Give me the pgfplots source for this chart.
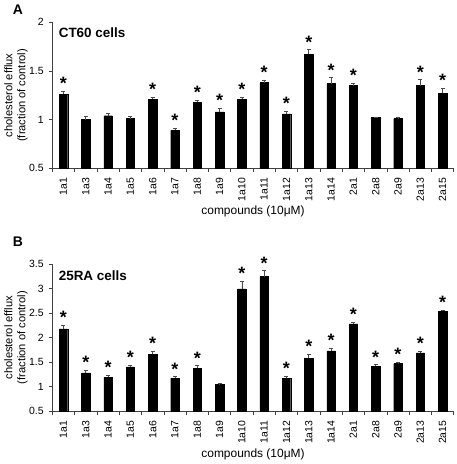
\documentclass[border=0pt]{standalone}
\usepackage{fontspec}
\setmainfont{Liberation Sans}
\usepackage{pgfplots}
\usepackage{pgfplotstable}
\pgfplotsset{compat=1.18}

\pgfplotstableread{
x val err ast
0  1.26 0.03  1.29
1  1.00 0.03  nan
2  1.04 0.02  nan
3  1.01 0.02  nan
4  1.21 0.02  1.23
5  0.89 0.02  0.91
6  1.18 0.02  1.20
7  1.08 0.04  1.12
8  1.21 0.02  1.23
9  1.38 0.025 1.405
10 1.06 0.03  1.09
11 1.67 0.05  1.72
12 1.37 0.06  1.43
13 1.35 0.025 1.375
14 1.02 0.005 nan
15 1.01 0.015 nan
16 1.35 0.06  1.41
17 1.27 0.05  1.32
}\dataA

\pgfplotstableread{
x val err ast
0  2.18 0.08  2.26
1  1.28 0.06  1.34
2  1.19 0.04  1.23
3  1.40 0.04  1.44
4  1.66 0.07  1.73
5  1.17 0.03  1.20
6  1.37 0.055 1.425
7  1.04 0.03  nan
8  3.00 0.16  3.16
9  3.25 0.12  3.37
10 1.17 0.04  1.21
11 1.58 0.08  1.66
12 1.73 0.06  1.79
13 2.28 0.04  2.32
14 1.42 0.03  1.45
15 1.47 0.03  1.50
16 1.69 0.03  1.72
17 2.54 0.02  2.56
}\dataB

\pgfplotsset{
  cstyle/.style={
    scale only axis, width=401.4bp,
    axis x line*=bottom, axis y line*=left,
    axis line style={black!75, line width=0.6bp},
    xmin=-0.5, xmax=17.5,
    xtick={0,...,17},
    xticklabels={1a1,1a3,1a4,1a5,1a6,1a7,1a8,1a9,1a10,1a11,1a12,1a13,1a14,2a1,2a8,2a9,2a13,2a15},
    minor xtick={-0.5,0.5,...,17.5},
    major x tick style={draw=none},
    tick align=outside,
    major tick length=3.5bp, minor tick length=4bp,
    tick style={black!75, line width=0.6bp},
    xticklabel style={rotate=90, anchor=east, font=\fontsize{10.5}{12}\selectfont, inner sep=0pt},
    yticklabel style={font=\fontsize{10.5}{12}\selectfont, anchor=east, inner sep=0pt},
    xticklabel shift=6bp, yticklabel shift=5bp,
    /pgf/number format/assume math mode=true,
    clip mode=individual,
    xlabel={compounds (10μM)},
    xlabel style={at={(rel axis cs:0.5,0)}, anchor=center, yshift=-43.4bp, font=\fontsize{12}{14}\selectfont},
    ylabel={cholesterol efflux\\(fraction of control)},
    ylabel style={at={([xshift=-36.3bp]rel axis cs:0,0.5)}, anchor=center, align=center, font=\fontsize{11.2}{13}\selectfont},
  },
  barstyle/.style={ybar, bar width=8.5bp, fill=black, draw=black,
    error bars/.cd, y dir=plus, y explicit,
    error bar style={black!70, line width=0.6bp},
    error mark options={rotate=90, mark size=2bp, black!70, line width=0.6bp}},
  starstyle/.style={draw=none, mark=none, nodes near coords={*},
    every node near coord/.style={anchor=base, yshift=1.5bp, font=\bfseries\fontsize{18}{20}\selectfont, inner sep=0pt}},
}

\begin{document}
\begin{tikzpicture}
\useasboundingbox (0,0) rectangle (457bp,-464bp);
\node[font=\bfseries\fontsize{14}{16}\selectfont] at (18bp,-9.5bp) {A};
\node[font=\bfseries\fontsize{14}{16}\selectfont] at (18bp,-242bp) {B};
\begin{axis}[cstyle, at={(52.3bp,-22.3bp)}, anchor=north west, height=146bp,
  ymin=0.5, ymax=2, ytick={0.5,1,1.5,2}]
\addplot[barstyle] table[x=x, y=val, y error=err]{\dataA};
\addplot[starstyle] table[x=x, y=ast]{\dataA};
\node[anchor=west, font=\bfseries\fontsize{13.5}{15}\selectfont] at ([xshift=3bp,yshift=-10.7bp]rel axis cs:0,1) {CT60 cells};
\end{axis}
\begin{axis}[cstyle, at={(52.3bp,-264.3bp)}, anchor=north west, height=146.7bp,
  ymin=0.5, ymax=3.5, ytick={0.5,1,...,3.5}]
\addplot[barstyle] table[x=x, y=val, y error=err]{\dataB};
\addplot[starstyle] table[x=x, y=ast]{\dataB};
\node[anchor=west, font=\bfseries\fontsize{13.5}{15}\selectfont] at ([xshift=3bp,yshift=-11.7bp]rel axis cs:0,1) {25RA cells};
\end{axis}
\end{tikzpicture}
\end{document}
